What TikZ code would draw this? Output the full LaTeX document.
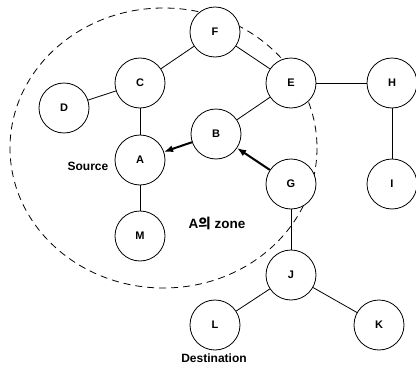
\documentclass[tikz,border=0pt]{standalone}
\usepackage{fontspec}
\setmainfont{Liberation Sans}
\newfontfamily\kofont{Noto Sans CJK KR}
\usetikzlibrary{arrows.meta}
\begin{document}
\begin{tikzpicture}[x=1pt, y=-1pt,
		  station/.style={circle, draw, line width=0.8pt, fill=white, minimum size=50pt, inner sep=0pt, font=\fontsize{11}{13}\selectfont\bfseries},
		  link/.style={line width=0.8pt},
		  route/.style={line width=2pt, -{Latex[length=9pt, width=7pt]}},
		  tag/.style={font=\fontsize{12}{14}\selectfont\bfseries}]
	\useasboundingbox (0,0) rectangle (416,367);
	% zone of A
	\draw[dashed, dash pattern=on 7pt off 5pt, line width=0.8pt] (163.5,148) ellipse (153.5 and 140);
	% links
	\coordinate (pF) at (215,32);
	\coordinate (pC) at (140,83);
	\coordinate (pD) at (64,108);
	\coordinate (pE) at (291,83);
	\coordinate (pH) at (392,83);
	\coordinate (pB) at (216,134);
	\coordinate (pA) at (140,160);
	\coordinate (pG) at (291,184);
	\coordinate (pI) at (392,184);
	\coordinate (pM) at (140,236);
	\coordinate (pJ) at (291,275);
	\coordinate (pL) at (215,325);
	\coordinate (pK) at (379,325);
	\foreach \n in {F,C,D,E,H,B,A,G,I,M,J,L,K}{
	    \node[station] (\n) at (p\n) {\n};
	}
	\draw[link] (F) -- (C);
	\draw[link] (F) -- (E);
	\draw[link] (C) -- (D);
	\draw[link] (C) -- (A);
	\draw[link] (A) -- (M);
	\draw[link] (E) -- (B);
	\draw[link] (E) -- (H);
	\draw[link] (H) -- (I);
	\draw[link] (G) -- (J);
	\draw[link] (J) -- (L);
	\draw[link] (J) -- (K);
	% route towards the source
	\draw[route] (B) -- (A);
	\draw[route] (G) -- (B);
	\node[tag] (src) at (88,166) {Source};
	\node[tag] (dst) at (214,358) {Destination};
	\node[font=\fontsize{13.5}{15}\selectfont\bfseries] (zone) at (217,223) {A{\kofont 의} zone};
\end{tikzpicture}
\end{document}
